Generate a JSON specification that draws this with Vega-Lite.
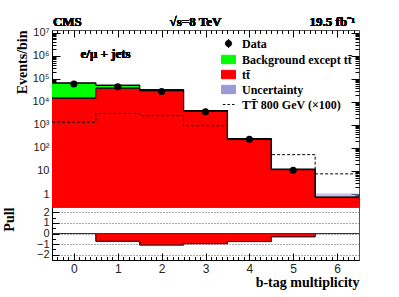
{
  "$schema": "https://vega.github.io/schema/vega-lite/v6.json",
  "padding": {"left": 1, "top": 15, "right": 5, "bottom": 5},
  "spacing": 0,
  "bounds": "flush",
  "datasets": {
    "bins": [
      {"bin": 0, "lo": -0.5, "hi": 0.5, "data": 59000, "ttbar": 14500, "total": 65000, "unc": 69000, "signal": 1300, "pull": 0},
      {"bin": 1, "lo": 0.5, "hi": 1.5, "data": 45000, "ttbar": 39000, "total": 51000, "unc": 54000, "signal": 3100, "pull": -0.73},
      {"bin": 2, "lo": 1.5, "hi": 2.5, "data": 28000, "ttbar": 30000, "total": 33000, "unc": 35000, "signal": 2500, "pull": -1.09},
      {"bin": 3, "lo": 2.5, "hi": 3.5, "data": 3700, "ttbar": 4000, "total": 4150, "unc": 4400, "signal": 920, "pull": -0.96},
      {"bin": 4, "lo": 3.5, "hi": 4.5, "data": 237, "ttbar": 240, "total": 246, "unc": 262, "signal": 240, "pull": -0.76},
      {"bin": 5, "lo": 4.5, "hi": 5.5, "data": 10.8, "ttbar": 11.5, "total": 11.8, "unc": 12.8, "signal": 51, "pull": -0.31},
      {"bin": 6, "lo": 5.5, "hi": 6.5, "data": null, "ttbar": 0.72, "total": 0.74, "unc": 1.07, "signal": 7.5, "pull": 0}
    ]
  },
  "config": {
    "font": "Liberation Sans",
    "view": {"stroke": "#555"},
    "axis": {
      "labelFont": "Liberation Sans", "labelFontSize": 11, "labelColor": "#222",
      "titleFont": "Liberation Serif", "titleFontWeight": "bold", "titleFontSize": 14, "titleColor": "#000",
      "domainColor": "#000", "tickColor": "#000", "grid": false, "zindex": 1,
      "labelOverlap": false, "labelBound": false, "labelFlush": false
    }
  },
  "vconcat": [
    {
      "width": 307,
      "height": 177,
      "data": {"name": "bins"},
      "layer": [
        {
          "layer": [
            {
              "mark": {"type": "rect", "clip": true},
              "encoding": {
                "x": {"field": "lo", "type": "quantitative", "scale": {"domain": [-0.5, 6.5], "nice": false, "zero": false},
                  "axis": {"title": null, "labels": false, "domain": false, "labelOverlap": false,
                    "values": [-0.375,-0.25,-0.125,0,0.125,0.25,0.375,0.5,0.625,0.75,0.875,1,1.125,1.25,1.375,1.5,1.625,1.75,1.875,2,2.125,2.25,2.375,2.5,2.625,2.75,2.875,3,3.125,3.25,3.375,3.5,3.625,3.75,3.875,4,4.125,4.25,4.375,4.5,4.625,4.75,4.875,5,5.125,5.25,5.375,5.5,5.625,5.75,5.875,6,6.125,6.25,6.375],
                    "tickSize": {"condition": {"test": "datum.value % 1 == 0", "value": -7}, "value": -3.5}}},
                "x2": {"field": "hi"},
                "y": {"field": "ttbar", "type": "quantitative", "scale": {"type": "log", "domain": [0.275, 12900000], "nice": false},
                  "axis": {"title": "Events/bin", "titleAnchor": "end", "titlePadding": 3, "labelPadding": 11, "labelOverlap": false,
                    "values": [0.3,0.4,0.5,0.6,0.7,0.8,0.9,1,2,3,4,5,6,7,8,9,10,20,30,40,50,60,70,80,90,100,200,300,400,500,600,700,800,900,1000,2000,3000,4000,5000,6000,7000,8000,9000,10000,20000,30000,40000,50000,60000,70000,80000,90000,100000,200000,300000,400000,500000,600000,700000,800000,900000,1000000,2000000,3000000,4000000,5000000,6000000,7000000,8000000,9000000,10000000],
                    "labelExpr": "abs(log(datum.value)/LN10 - round(log(datum.value)/LN10)) > 0.001 ? '' : datum.value < 5 ? '1' : datum.value < 50 ? '10' : '10' + substring('⁰¹²³⁴⁵⁶⁷⁸⁹', round(log(datum.value)/LN10), round(log(datum.value)/LN10) + 1)",
                    "tickSize": {"condition": {"test": "abs(log(datum.value)/LN10 - round(log(datum.value)/LN10)) < 0.001", "value": -8}, "value": -4}}},
                "y2": {"datum": 0.1},
                "color": {"datum": "tt̄", "type": "nominal",
                  "scale": {"domain": ["Data", "Background except tt̄", "tt̄", "Uncertainty", "TT̄ 800 GeV (×100)"], "range": ["#000000", "#00ff00", "#ff0000", "#9a9ad8", "#000000"]},
                  "legend": {"title": null, "orient": "none", "legendX": 169, "legendY": 6, "padding": 0, "offset": 0,
                    "labelFont": "Liberation Serif", "labelFontWeight": "bold", "labelFontSize": 12, "labelColor": "#000",
                    "symbolSize": 196, "rowPadding": 1, "labelOffset": 6, "labelLimit": 300,
                    "encode": {"symbols": {"update": {
                      "shape": {"signal": "datum.value === 'Data' ? 'M0,-0.65V0.65M0.45,0A0.45,0.45 0 1,1 -0.45,0A0.45,0.45 0 1,1 0.45,0' : datum.value === 'Uncertainty' ? 'M-1,-0.6H1V0.6H-1Z M-1,0.3L-0.4,-0.6 M-0.6,0.6L0.2,-0.6 M-0.1,0.6L0.7,-0.6 M0.4,0.6L1,-0.3' : datum.value === 'TT̄ 800 GeV (×100)' ? 'M-0.8,0H-0.45M-0.15,0H0.2M0.5,0H0.85' : 'M-1,-0.6H1V0.6H-1Z'"},
                      "fill": {"signal": "datum.value === 'Data' ? '#000' : datum.value === 'tt̄' ? '#ff0000' : datum.value === 'Uncertainty' || datum.value === 'TT̄ 800 GeV (×100)' ? 'transparent' : '#00ff00'"},
                      "stroke": {"signal": "datum.value === 'Uncertainty' ? '#4444bb' : '#000'"},
                      "strokeWidth": {"value": 1},
                      "size": {"value": 196},
                      "opacity": {"value": 1}
                    }}}}
                }
              }
            },
            {
              "mark": {"type": "rect", "clip": true, "color": "#ff0000", "stroke": "#ff0000", "strokeWidth": 0.8},
              "encoding": {
                "x": {"field": "lo", "type": "quantitative"},
                "x2": {"field": "hi"},
                "y": {"field": "ttbar", "type": "quantitative"},
                "y2": {"datum": 0.1}
              }
            },
            {
              "mark": {"type": "rect", "clip": true},
              "encoding": {
                "x": {"field": "lo", "type": "quantitative"},
                "x2": {"field": "hi"},
                "y": {"field": "ttbar", "type": "quantitative"},
                "y2": {"field": "total"},
                "color": {"datum": "Background except tt̄", "type": "nominal"}
              }
            },
            {
              "mark": {"type": "rect", "clip": true, "opacity": 0.6},
              "encoding": {
                "x": {"field": "lo", "type": "quantitative"},
                "x2": {"field": "hi"},
                "y": {"field": "total", "type": "quantitative"},
                "y2": {"field": "unc"},
                "color": {"datum": "Uncertainty", "type": "nominal"}
              }
            },
            {
              "mark": {"type": "line", "interpolate": "step-after", "color": "#111", "strokeWidth": 1, "clip": true},
              "encoding": {
                "x": {"field": "lo", "type": "quantitative"},
                "y": {"field": "ttbar", "type": "quantitative"}
              }
            },
            {
              "mark": {"type": "rule", "color": "#111", "strokeWidth": 1, "clip": true},
              "encoding": {
                "x": {"field": "lo", "type": "quantitative"},
                "x2": {"field": "hi"},
                "y": {"field": "ttbar", "type": "quantitative"}
              }
            },
            {
              "mark": {"type": "line", "interpolate": "step-after", "color": "#000", "strokeWidth": 1.2, "clip": true},
              "encoding": {
                "x": {"field": "lo", "type": "quantitative"},
                "y": {"field": "total", "type": "quantitative"}
              }
            },
            {
              "mark": {"type": "rule", "color": "#000", "strokeWidth": 1.2, "clip": true},
              "encoding": {
                "x": {"field": "lo", "type": "quantitative"},
                "x2": {"field": "hi"},
                "y": {"field": "total", "type": "quantitative"}
              }
            },
            {
              "mark": {"type": "line", "interpolate": "step-after", "strokeWidth": 1, "strokeDash": [3, 2], "clip": true},
              "encoding": {
                "x": {"field": "lo", "type": "quantitative"},
                "y": {"field": "signal", "type": "quantitative"},
                "color": {"datum": "TT̄ 800 GeV (×100)", "type": "nominal"}
              }
            },
            {
              "transform": [{"filter": "datum.bin == 6"}],
              "mark": {"type": "rule", "strokeWidth": 1, "strokeDash": [3, 2], "color": "#000", "clip": true},
              "encoding": {
                "x": {"field": "lo", "type": "quantitative"},
                "x2": {"field": "hi"},
                "y": {"field": "signal", "type": "quantitative"}
              }
            },
            {
              "transform": [{"filter": "datum.data != null"}],
              "mark": {"type": "point", "filled": true, "size": 50, "opacity": 1},
              "encoding": {
                "x": {"field": "bin", "type": "quantitative"},
                "y": {"field": "data", "type": "quantitative"},
                "color": {"datum": "Data", "type": "nominal"}
              }
            },
            {
              "mark": {"type": "text", "text": "e/μ + jets", "align": "left", "baseline": "middle", "font": "Liberation Serif", "fontWeight": "bold", "fontSize": 13, "color": "#000"},
              "encoding": {
                "x": {"datum": 0.15, "type": "quantitative"},
                "y": {"datum": 1170000, "type": "quantitative"}
              }
            },
            {
              "mark": {"type": "text", "text": "CMS", "align": "left", "baseline": "alphabetic", "font": "Liberation Serif", "fontWeight": "bold", "fontSize": 13, "color": "#000"},
              "encoding": {
                "x": {"datum": -0.48, "type": "quantitative"},
                "y": {"datum": 19200000, "type": "quantitative"}
              }
            },
            {
              "mark": {"type": "text", "text": "√s=8 TeV", "align": "center", "baseline": "alphabetic", "font": "Liberation Serif", "fontWeight": "bold", "fontSize": 13, "color": "#000"},
              "encoding": {
                "x": {"datum": 2.77, "type": "quantitative"},
                "y": {"datum": 19200000, "type": "quantitative"}
              }
            },
            {
              "mark": {"type": "text", "text": "19.5 fb⁻¹", "align": "right", "baseline": "alphabetic", "font": "Liberation Serif", "fontWeight": "bold", "fontSize": 13, "color": "#000"},
              "encoding": {
                "x": {"datum": 6.41, "type": "quantitative"},
                "y": {"datum": 19200000, "type": "quantitative"}
              }
            }
          ]
        },
        {
          "mark": {"type": "point", "opacity": 0},
          "encoding": {
            "x": {"field": "lo", "type": "quantitative", "scale": {"domain": [-0.5, 6.5], "nice": false, "zero": false},
              "axis": {"orient": "top", "title": null, "labels": false, "domain": false, "labelOverlap": false,
                "values": [-0.375,-0.25,-0.125,0,0.125,0.25,0.375,0.5,0.625,0.75,0.875,1,1.125,1.25,1.375,1.5,1.625,1.75,1.875,2,2.125,2.25,2.375,2.5,2.625,2.75,2.875,3,3.125,3.25,3.375,3.5,3.625,3.75,3.875,4,4.125,4.25,4.375,4.5,4.625,4.75,4.875,5,5.125,5.25,5.375,5.5,5.625,5.75,5.875,6,6.125,6.25,6.375],
                "tickSize": {"condition": {"test": "datum.value % 1 == 0", "value": -7}, "value": -3.5}}},
            "y": {"field": "ttbar", "type": "quantitative", "scale": {"type": "log", "domain": [0.275, 12900000], "nice": false},
              "axis": {"orient": "right", "title": null, "labels": false, "domain": false, "labelOverlap": false,
                "values": [0.3,0.4,0.5,0.6,0.7,0.8,0.9,1,2,3,4,5,6,7,8,9,10,20,30,40,50,60,70,80,90,100,200,300,400,500,600,700,800,900,1000,2000,3000,4000,5000,6000,7000,8000,9000,10000,20000,30000,40000,50000,60000,70000,80000,90000,100000,200000,300000,400000,500000,600000,700000,800000,900000,1000000,2000000,3000000,4000000,5000000,6000000,7000000,8000000,9000000,10000000],
                "tickSize": {"condition": {"test": "abs(log(datum.value)/LN10 - round(log(datum.value)/LN10)) < 0.001", "value": -8}, "value": -4}}}
          }
        }
      ],
      "resolve": {"scale": {"x": "independent", "y": "independent"}}
    },
    {
      "width": 307,
      "height": 53,
      "data": {"name": "bins"},
      "layer": [
        {
          "layer": [
            {
              "mark": {"type": "rect", "color": "#ff0000", "stroke": "#ff0000", "strokeWidth": 0.8},
              "encoding": {
                "x": {"field": "lo", "type": "quantitative", "scale": {"domain": [-0.5, 6.5], "nice": false, "zero": false},
                  "axis": {"title": "b-tag multiplicity", "titleAnchor": "end", "titlePadding": 1, "labelPadding": 3, "labelFontSize": 12, "labelOverlap": false,
                    "values": [0, 1, 2, 3, 4, 5, 6], "ticks": false}},
                "x2": {"field": "hi"},
                "y": {"field": "pull", "type": "quantitative", "scale": {"domain": [-2.5, 2.5], "nice": false, "zero": false},
                  "axis": {"title": "Pull", "titleAnchor": "end", "titlePadding": 20, "labelPadding": 3, "labelOverlap": false,
                    "tickCount": 5, "ticks": false,
                    "grid": true, "gridColor": "#555", "gridDash": [1, 2], "gridWidth": 1}},
                "y2": {"datum": 0}
              }
            },
            {
              "mark": {"type": "line", "interpolate": "step-after", "color": "#111", "strokeWidth": 1},
              "encoding": {
                "x": {"field": "lo", "type": "quantitative"},
                "y": {"field": "pull", "type": "quantitative"}
              }
            },
            {
              "mark": {"type": "rule", "color": "#333", "strokeWidth": 1},
              "encoding": {
                "y": {"datum": 0, "type": "quantitative"}
              }
            }
          ]
        },
        {
          "mark": {"type": "point", "opacity": 0},
          "encoding": {
            "x": {"field": "lo", "type": "quantitative", "scale": {"domain": [-0.5, 6.5], "nice": false, "zero": false},
              "axis": {"orient": "bottom", "title": null, "labels": false, "domain": false, "labelOverlap": false,
                "values": [-0.375,-0.25,-0.125,0,0.125,0.25,0.375,0.5,0.625,0.75,0.875,1,1.125,1.25,1.375,1.5,1.625,1.75,1.875,2,2.125,2.25,2.375,2.5,2.625,2.75,2.875,3,3.125,3.25,3.375,3.5,3.625,3.75,3.875,4,4.125,4.25,4.375,4.5,4.625,4.75,4.875,5,5.125,5.25,5.375,5.5,5.625,5.75,5.875,6,6.125,6.25,6.375],
                "tickSize": {"condition": {"test": "datum.value % 1 == 0", "value": -7}, "value": -3.5}}},
            "y": {"field": "pull", "type": "quantitative", "scale": {"domain": [-2.5, 2.5], "nice": false, "zero": false},
              "axis": {"orient": "left", "title": null, "labels": false, "domain": false, "labelOverlap": false,
                "values": [-2, -1.5, -1, -0.5, 0, 0.5, 1, 1.5, 2],
                "tickSize": {"condition": {"test": "datum.value % 1 == 0", "value": -7}, "value": -3.5}}}
          }
        }
      ],
      "resolve": {"scale": {"x": "independent", "y": "independent"}}
    }
  ]
}
